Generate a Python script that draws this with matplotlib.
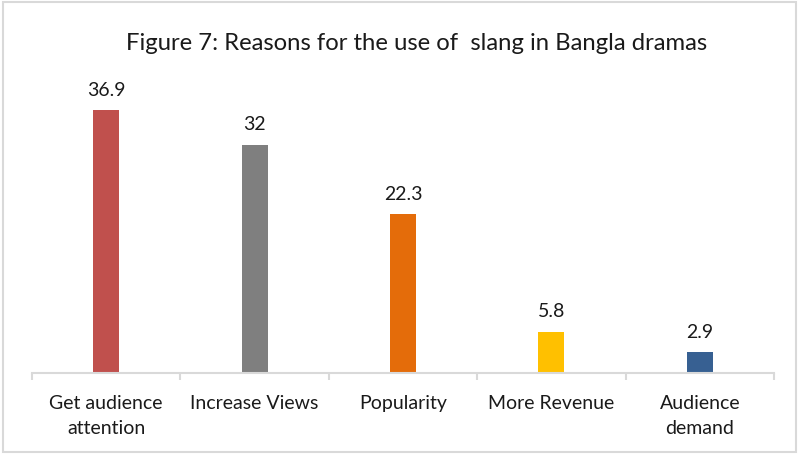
import matplotlib
matplotlib.use("Agg")
import matplotlib.pyplot as plt
from matplotlib.patches import Rectangle
import numpy as np

categories = ["Get audience\nattention", "Increase Views", "Popularity", "More Revenue", "Audience\ndemand"]
values = [36.9, 32, 22.3, 5.8, 2.9]
value_labels = ["36.9", "32", "22.3", "5.8", "2.9"]
colors = ["#C0504D", "#7F7F7F", "#E46C0A", "#FFC000", "#376092"]
title = "Figure 7: Reasons for the use of  slang in Bangla dramas"

plt.rcParams['font.family'] = ['Lato', 'DejaVu Sans']

W, H = 799, 456
fig = plt.figure(figsize=(W/100, H/100), dpi=100)
ax = fig.add_axes([32/W, (H-374)/H, (774-32)/W, (374-89)/H])

x = np.arange(len(categories))
ax.bar(x, values, width=0.175, color=colors, zorder=2)
for xi, v, lab in zip(x, values, value_labels):
    ax.annotate(lab, (xi, v), xytext=(0, 9), textcoords="offset points",
                ha="center", va="bottom", fontsize=14, color="#1a1a1a")

ax.set_xlim(-0.5, len(categories) - 0.5)
ax.set_ylim(0, 40)
for s in ["top", "right", "left"]:
    ax.spines[s].set_visible(False)
ax.spines["bottom"].set_color("#D9D9D9")
ax.spines["bottom"].set_linewidth(1.5)
ax.set_yticks([])
ax.set_xticks(x)
ax.set_xticklabels(categories, fontsize=14, color="#1a1a1a", linespacing=1.6)
ax.tick_params(axis="x", which="major", length=0, pad=15)
ax.set_xticks(np.arange(-0.5, len(categories)), minor=True)
ax.tick_params(axis="x", which="minor", length=5, width=1.5, color="#D9D9D9")

fig.text(417/W, 1 - 43/H, title, ha="center", va="center", fontsize=17.2, color="#1a1a1a")

fig.patches.append(Rectangle((3/W, 3/H), (W-6)/W, (H-6)/H, transform=fig.transFigure,
                             fill=False, edgecolor="#D9D9D9", linewidth=1.5))

fig.savefig("out.png", dpi=100)
